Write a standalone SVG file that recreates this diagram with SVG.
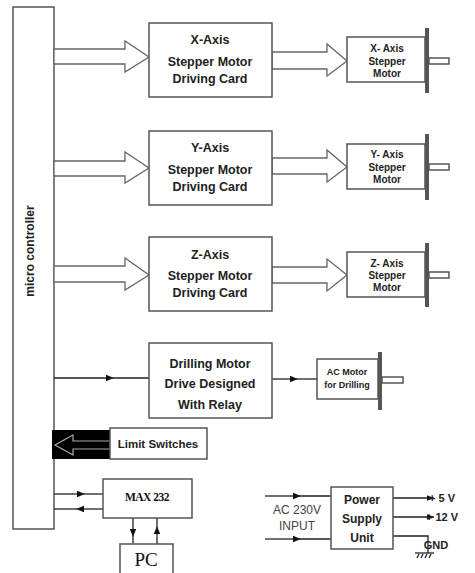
<svg xmlns="http://www.w3.org/2000/svg" width="475" height="573" viewBox="0 0 475 573">
<defs>
<style>
.box{fill:#fff;stroke:#555;stroke-width:1.5}
.hol{fill:#fff;stroke:#666;stroke-width:1.3;stroke-linejoin:miter}
.ln{fill:none;stroke:#222;stroke-width:1.3}
.t{font-family:"Liberation Sans",Arial,sans-serif;font-weight:bold;fill:#222;text-anchor:middle}
.card{font-size:12.5px}
.mot{font-size:10px}
.ser{font-family:"Liberation Serif","Times New Roman",serif;fill:#111;text-anchor:middle}
.flange{fill:#555}
</style>
<marker id="ah" viewBox="0 0 10 10" refX="5" refY="5" markerWidth="8" markerHeight="8" orient="auto" markerUnits="userSpaceOnUse">
<path d="M0,1 L10,5 L0,9 z" fill="#111"/>
</marker>
<marker id="ahend" viewBox="0 0 10 10" refX="10" refY="5" markerWidth="7" markerHeight="7" orient="auto" markerUnits="userSpaceOnUse">
<path d="M0,1 L10,5 L0,9 z" fill="#111"/>
</marker>
</defs>
<rect width="475" height="573" fill="#fff"/>

<g id="microcontroller">
<rect class="box" x="13" y="7" width="41" height="522"/>
<text class="t" font-size="12" transform="translate(34,251) rotate(-90)">micro controller</text>
</g>

<g id="connectors">
<polygon class="hol" points="54,49 125,49 125,41 149,57 125,72 125,64 54,64"/>
<polygon class="hol" points="54,161 125,161 125,152 149,168 125,183 125,176 54,176"/>
<polygon class="hol" points="54,266 125,266 125,258 149,275 125,290 125,282 54,282"/>
<polygon class="hol" points="272,52 327,52 327,44 347,61 327,76 327,69 272,69"/>
<polygon class="hol" points="272,158 327,158 327,150 347,167 327,182 327,174 272,174"/>
<polygon class="hol" points="272,267 327,267 327,259 347,275 327,291 327,283 272,283"/>
<path class="ln" d="M54,378 L110,378" marker-end="url(#ah)"/>
<path class="ln" d="M110,378 L149,378"/>
<path class="ln" d="M272,379 L294,379" marker-end="url(#ah)"/>
<path class="ln" d="M294,379 L317,379"/>
<path class="ln" d="M54,494 L81,494" marker-end="url(#ah)"/>
<path class="ln" d="M81,494 L103,494"/>
<path class="ln" d="M103,509 L80,509" marker-end="url(#ah)"/>
<path class="ln" d="M80,509 L54,509"/>
<path class="ln" d="M133,518 L133,533" marker-end="url(#ah)"/>
<path class="ln" d="M133,533 L133,544"/>
<path class="ln" d="M157,544 L157,530" marker-end="url(#ah)"/>
<path class="ln" d="M157,530 L157,518"/>
<path class="ln" d="M265,496 L297,496" marker-end="url(#ah)"/>
<path class="ln" d="M297,496 L331,496"/>
<path class="ln" d="M265,539 L297,539" marker-end="url(#ah)"/>
<path class="ln" d="M297,539 L331,539"/>
<path class="ln" d="M393,498 L434,498" marker-end="url(#ahend)"/>
<path class="ln" d="M393,517 L434,517" marker-end="url(#ahend)"/>
<path class="ln" d="M393,536 L428,536 L428,553"/>
<path class="ln" d="M415,553 L434,553"/>
<path class="ln" stroke-width="1" d="M419,554 L417,558 M423,554 L421,558 M427,554 L425,558 M431,554 L429,558"/>
</g>

<g id="x-card">
<rect class="box" x="149" y="23" width="123" height="74"/>
<text class="t card" x="210" y="44">X-Axis</text>
<text class="t card" x="210" y="66">Stepper Motor</text>
<text class="t card" x="210" y="83">Driving Card</text>
</g>
<g id="y-card">
<rect class="box" x="149" y="131" width="123" height="74"/>
<text class="t card" x="210" y="152">Y-Axis</text>
<text class="t card" x="210" y="174">Stepper Motor</text>
<text class="t card" x="210" y="191">Driving Card</text>
</g>
<g id="z-card">
<rect class="box" x="149" y="237" width="123" height="74"/>
<text class="t card" x="210" y="259">Z-Axis</text>
<text class="t card" x="210" y="280">Stepper Motor</text>
<text class="t card" x="210" y="297">Driving Card</text>
</g>
<g id="drill-card">
<rect class="box" x="149" y="343" width="123" height="75"/>
<text class="t card" x="210" y="368">Drilling Motor</text>
<text class="t card" x="210" y="388">Drive Designed</text>
<text class="t card" x="210" y="409">With Relay</text>
</g>

<g id="x-motor">
<rect class="box" x="347" y="37" width="78" height="45"/>
<rect class="flange" x="425" y="28" width="4" height="65"/>
<rect class="box" stroke-width="1.2" x="429" y="58" width="20" height="6"/>
<text class="t mot" x="387" y="52">X- Axis</text>
<text class="t mot" x="387" y="65">Stepper</text>
<text class="t mot" x="387" y="77">Motor</text>
</g>
<g id="y-motor">
<rect class="box" x="347" y="144" width="78" height="45"/>
<rect class="flange" x="425" y="134" width="4" height="66"/>
<rect class="box" stroke-width="1.2" x="429" y="164" width="20" height="6"/>
<text class="t mot" x="387" y="158">Y- Axis</text>
<text class="t mot" x="387" y="171">Stepper</text>
<text class="t mot" x="387" y="183">Motor</text>
</g>
<g id="z-motor">
<rect class="box" x="347" y="252" width="78" height="45"/>
<rect class="flange" x="425" y="243" width="4" height="64"/>
<rect class="box" stroke-width="1.2" x="429" y="272" width="20" height="6"/>
<text class="t mot" x="387" y="267">Z- Axis</text>
<text class="t mot" x="387" y="279">Stepper</text>
<text class="t mot" x="387" y="291">Motor</text>
</g>
<g id="ac-motor">
<rect class="box" x="317" y="359" width="61" height="40"/>
<rect class="flange" x="378" y="352" width="4" height="58"/>
<rect class="box" stroke-width="1.2" x="382" y="377" width="21" height="6"/>
<text class="t" font-size="9" x="347" y="375">AC Motor</text>
<text class="t" font-size="9" x="347" y="388">for Drilling</text>
</g>

<g id="limit-switches">
<rect x="52" y="430" width="58" height="29" fill="#000"/>
<polygon fill="none" stroke="#aaa" stroke-width="1.2" points="110,441 73,441 73,435 55,445 73,455 73,449 110,449"/>
<rect class="box" x="110" y="428" width="97" height="31"/>
<text class="t" font-size="11.5" x="158" y="448">Limit Switches</text>
</g>

<g id="max232">
<rect class="box" x="103" y="479" width="89" height="39"/>
<text class="ser" font-weight="bold" font-size="11.5" letter-spacing="-0.5" x="147" y="501">MAX 232</text>
</g>
<g id="pc">
<rect class="box" x="120" y="544" width="53" height="40"/>
<text class="ser" font-size="19" x="146" y="566">PC</text>
</g>

<g id="power-supply">
<rect class="box" x="331" y="487" width="62" height="62"/>
<text class="t" font-size="12" x="362" y="504">Power</text>
<text class="t" font-size="12" x="362" y="523">Supply</text>
<text class="t" font-size="12" x="362" y="542">Unit</text>
</g>
<g id="labels">
<text font-family="Liberation Sans,Arial,sans-serif" font-size="12" fill="#444" text-anchor="middle" x="297" y="514">AC 230V</text>
<text font-family="Liberation Sans,Arial,sans-serif" font-size="12" fill="#444" text-anchor="middle" x="297" y="530">INPUT</text>
<text class="t" font-size="11" text-anchor="start" x="442" y="502">+ 5 V</text>
<text class="t" font-size="11" text-anchor="start" x="442" y="521">+ 12 V</text>
<text class="t" font-size="11" text-anchor="start" x="436" y="549">GND</text>
</g>
</svg>
